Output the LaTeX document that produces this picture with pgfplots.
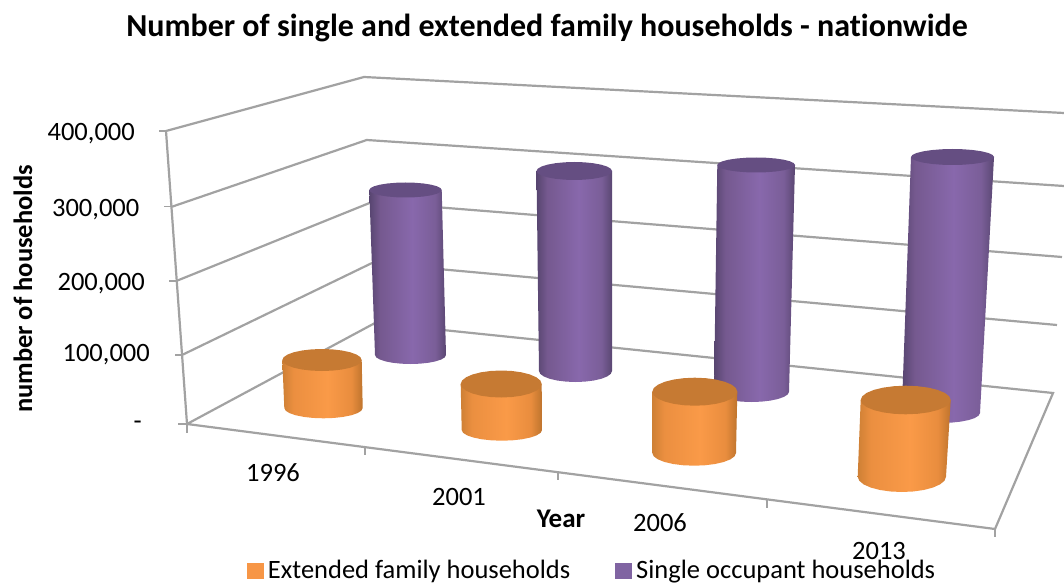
\documentclass[border=0pt]{standalone}
\usepackage{pgfplots}
\usepackage{pgfplotstable}
\usepackage{fontspec}
\pgfplotsset{compat=1.18}
\setmainfont[Ligatures=CommonOff]{Carlito}
\definecolor{gridc}{HTML}{A2A2A2}
\definecolor{capP}{HTML}{654E82}
\definecolor{capO}{HTML}{C67A33}
\definecolor{legO}{HTML}{F79646}
\definecolor{legP}{HTML}{8064A2}
\definecolor{p0}{HTML}{574570}\definecolor{p1}{HTML}{75598F}\definecolor{p2}{HTML}{8868AC}\definecolor{p3}{HTML}{7A5E98}\definecolor{p4}{HTML}{5A4772}
\definecolor{o0}{HTML}{CE8035}\definecolor{o1}{HTML}{EB8F40}\definecolor{o2}{HTML}{FA9A48}\definecolor{o3}{HTML}{E98D3E}\definecolor{o4}{HTML}{BE742D}
\pgfdeclarehorizontalshading{purpcyl}{100bp}{color(0bp)=(p0);color(25bp)=(p0);color(32bp)=(p1);color(53bp)=(p2);color(68bp)=(p3);color(75bp)=(p4);color(100bp)=(p4)}
\pgfdeclarehorizontalshading{orancyl}{100bp}{color(0bp)=(o0);color(25bp)=(o0);color(32bp)=(o1);color(53bp)=(o2);color(68bp)=(o3);color(75bp)=(o4);color(100bp)=(o4)}
\pgfplotstableread{
u v w
-1 0 0
1 0 0
1 1 0
.966 1 .259
.866 1 .5
.707 1 .707
.5 1 .866
.259 1 .966
0 1 1
-.259 1 .966
-.5 1 .866
-.707 1 .707
-.866 1 .5
-.966 1 .259
-1 1 0
}\bodyT
\pgfplotstableread{
u w
1 0
.966 .259
.866 .5
.707 .707
.5 .866
.259 .966
0 1
-.259 .966
-.5 .866
-.707 .707
-.866 .5
-.966 .259
-1 0
-.966 -.259
-.866 -.5
-.707 -.707
-.5 -.866
-.259 -.966
0 -1
.259 -.966
.5 -.866
.707 -.707
.866 -.5
.966 -.259
}\capT
% top: left x, right x, centre y, half height; bottom: left x, right x, centre y, half height
\newcommand{\cylP}[8]{%
  \addplot[draw=none,shading=purpcyl,forget plot] table[
    x expr={(1-\thisrow{v})*((#1+#2)/2+\thisrow{u}*(#2-#1)/2)+\thisrow{v}*((#5+#6)/2+\thisrow{u}*(#6-#5)/2)},
    y expr={(1-\thisrow{v})*#3+\thisrow{v}*#7+\thisrow{w}*#8}]{\bodyT};
  \addplot[draw=none,fill=capP,forget plot] table[
    x expr={(#1+#2)/2+\thisrow{u}*(#2-#1)/2},
    y expr={#3+\thisrow{w}*#4}]{\capT};
}
\newcommand{\cylO}[8]{%
  \addplot[draw=none,shading=orancyl,forget plot] table[
    x expr={(1-\thisrow{v})*((#1+#2)/2+\thisrow{u}*(#2-#1)/2)+\thisrow{v}*((#5+#6)/2+\thisrow{u}*(#6-#5)/2)},
    y expr={(1-\thisrow{v})*#3+\thisrow{v}*#7+\thisrow{w}*#8}]{\bodyT};
  \addplot[draw=none,fill=capO,forget plot] table[
    x expr={(#1+#2)/2+\thisrow{u}*(#2-#1)/2},
    y expr={#3+\thisrow{w}*#4}]{\capT};
}
\begin{document}
\begin{tikzpicture}[x=1pt,y=1pt]
\path[use as bounding box] (0,0) rectangle (1064pt,585pt);
\begin{axis}[
  at={(0pt,0pt)},anchor=south west,
  scale only axis,width=1064pt,height=585pt,
  xmin=0,xmax=1064,ymin=0,ymax=585,y dir=reverse,
  axis lines=none,
  clip=false,
  legend columns=2,
  legend style={draw=none,fill=none,at={(axis cs:247,570.5)},anchor=west,inner sep=0pt,outer sep=0pt,
    font=\fontsize{26.5}{28}\selectfont,
    /tikz/every odd column/.append style={column sep=3pt},
    /tikz/every even column/.append style={column sep=43pt}},
  legend cell align=left,
]
% walls and floor
\addplot[gridc,line width=2.2pt,forget plot] coordinates {(166,131)(364,77)(1064,113)};
\addplot[gridc,line width=2.2pt,forget plot] coordinates {(172,206.7)(366.7,140)(1064,186)};
\addplot[gridc,line width=2.2pt,forget plot] coordinates {(177,280.7)(372,202)(1062,257)};
\addplot[gridc,line width=2.2pt,forget plot] coordinates {(182,355)(372,263)(1057,325)};
\addplot[gridc,line width=2.2pt,forget plot] coordinates {(187,424)(375,323)(1053,393)(995,529)(187,424)};
\addplot[gridc,line width=2.2pt,forget plot] coordinates {(166,131)(187,424)};
% ticks
\addplot[gridc,line width=1.6pt,forget plot] coordinates {(159,131)(166,131)};
\addplot[gridc,line width=1.6pt,forget plot] coordinates {(164,206.7)(172,206.7)};
\addplot[gridc,line width=1.6pt,forget plot] coordinates {(169,280.7)(177,280.7)};
\addplot[gridc,line width=1.6pt,forget plot] coordinates {(175,355)(182,355)};
\addplot[gridc,line width=1.6pt,forget plot] coordinates {(178,424)(187,424)};
\addplot[gridc,line width=1.6pt,forget plot] coordinates {(187,424)(187,433)};
\addplot[gridc,line width=1.6pt,forget plot] coordinates {(365,448)(365,455)};
\addplot[gridc,line width=1.6pt,forget plot] coordinates {(557.7,473)(557.7,480)};
\addplot[gridc,line width=1.6pt,forget plot] coordinates {(766.7,500)(766.7,508)};
\addplot[gridc,line width=1.6pt,forget plot] coordinates {(995,529)(995,537)};
% single occupant households
\cylP{369.3}{441.7}{190}{7.5}{375}{446}{355}{9}
\cylP{536.5}{612}{171}{9}{539}{612}{371}{11}
\cylP{717.3}{795}{165}{7.5}{714}{789}{391.7}{10.3}
\cylP{911}{994}{157}{8}{901.7}{980}{413}{10}
% extended family households
\cylO{282.3}{361.7}{360}{11}{284.3}{362.7}{408}{10.3}
\cylO{460.7}{541.7}{384}{13.5}{461.7}{542}{430}{10.7}
\cylO{652.3}{737.3}{391.7}{14}{652.3}{736}{453}{12.7}
\cylO{860.7}{950.7}{400}{14.3}{857.7}{946}{476.7}{15.3}
\addlegendimage{legend image code/.code={\fill[legO] (0pt,-7.7pt) rectangle (15.5pt,7.7pt);}}
\addlegendentry{Extended family households}
\addlegendimage{legend image code/.code={\fill[legP] (0pt,-7.7pt) rectangle (15.5pt,7.7pt);}}
\addlegendentry{Single occupant households}
% text
\node[font=\bfseries\fontsize{32}{34}\selectfont] at (axis cs:547,28) {Number of single and extended family households - nationwide};
\node[font=\fontsize{26.5}{28}\selectfont,anchor=east,inner sep=0pt] at (axis cs:135,134) {400,000};
\node[font=\fontsize{26.5}{28}\selectfont,anchor=east,inner sep=0pt] at (axis cs:139.5,209.5) {300,000};
\node[font=\fontsize{26.5}{28}\selectfont,anchor=east,inner sep=0pt] at (axis cs:145,283.5) {200,000};
\node[font=\fontsize{26.5}{28}\selectfont,anchor=east,inner sep=0pt] at (axis cs:150,354.5) {100,000};
\node[font=\fontsize{26.5}{28}\selectfont,anchor=east,inner sep=0pt] at (axis cs:142,425) {-};
\node[font=\fontsize{26.5}{28}\selectfont] at (axis cs:273,473) {1996};
\node[font=\fontsize{26.5}{28}\selectfont] at (axis cs:459,497) {2001};
\node[font=\fontsize{26.5}{28}\selectfont] at (axis cs:660,523) {2006};
\node[font=\fontsize{26.5}{28}\selectfont] at (axis cs:879,551) {2013};
\node[font=\bfseries\fontsize{27}{28}\selectfont] at (axis cs:561,519) {Year};
\node[font=\bfseries\fontsize{26.5}{28}\selectfont,rotate=90] at (axis cs:23,289) {number of households};
\end{axis}
\end{tikzpicture}
\end{document}
